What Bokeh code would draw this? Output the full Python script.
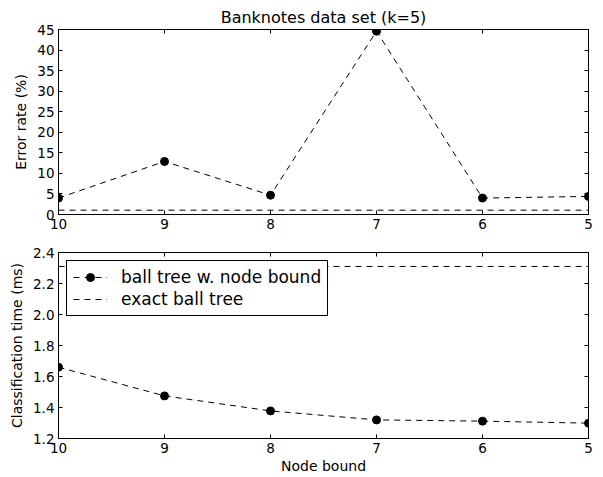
from bokeh.plotting import figure
from bokeh.models import (Range1d, FixedTicker, LinearAxis, Legend, LegendItem,
                          NumeralTickFormatter)
from bokeh.layouts import column
from bokeh.embed import file_html
from bokeh.resources import INLINE

# ---- data ----
node_bound = [10, 9, 8, 7, 6, 5]
error_node = [4.0, 12.9, 4.7, 44.6, 4.0, 4.4]
error_exact = [1.05, 1.05, 1.05, 1.05, 1.05, 1.05]
time_node = [1.660, 1.475, 1.378, 1.320, 1.312, 1.299]
time_exact = [2.31, 2.31, 2.31, 2.31, 2.31, 2.31]
err_ticks = [0, 5, 10, 15, 20, 25, 30, 35, 40, 45]
time_ticks = [1.2, 1.4, 1.6, 1.8, 2.0, 2.2, 2.4]

FONT = "DejaVu Sans"
DASH = "6 5"


def style(p, yticks):
    p.xgrid.visible = False
    p.ygrid.visible = False
    p.outline_line_color = "black"
    p.outline_line_width = 1
    p.background_fill_color = "white"
    p.border_fill_color = "white"
    p.xaxis.ticker = FixedTicker(ticks=node_bound)
    p.yaxis.ticker = FixedTicker(ticks=yticks)
    for ax in p.axis:
        ax.axis_line_color = "black"
        ax.major_tick_in = 4
        ax.major_tick_out = 0
        ax.minor_tick_in = 0
        ax.minor_tick_out = 0
        ax.major_tick_line_color = "black"
        ax.major_label_text_font = FONT
        ax.major_label_text_font_size = "13.5px"
        ax.major_label_text_color = "black"
        ax.major_label_standoff = 4
        ax.axis_label_text_font = FONT
        ax.axis_label_text_font_size = "14px"
        ax.axis_label_text_font_style = "normal"
        ax.axis_label_text_color = "black"
        ax.axis_label_standoff = 5
    # mirrored ticks on top and right (no labels)
    for loc, ticks in (("above", node_bound), ("right", yticks)):
        ax = LinearAxis(ticker=FixedTicker(ticks=ticks),
                        major_label_text_font_size="1px",
                        major_label_text_color=None,
                        major_label_standoff=0,
                        major_tick_in=4, major_tick_out=0,
                        minor_tick_in=0, minor_tick_out=0,
                        axis_line_color="black",
                        major_tick_line_color="black")
        p.add_layout(ax, loc)


# ---- top: error rate ----
p1 = figure(width=602, height=233, x_range=Range1d(10, 5), y_range=Range1d(0, 45),
            output_backend="svg", toolbar_location=None,
            min_border_left=58, min_border_right=14, min_border_top=29,
            min_border_bottom=19,
            title="Banknotes data set (k=5)")
p1.title.text_font = FONT
p1.title.text_font_size = "16px"
p1.title.text_font_style = "normal"
p1.title.text_color = "black"
p1.title.align = "center"
p1.title.standoff = 6
p1.title.offset = 0
style(p1, err_ticks)
p1.left[0].axis_label = "Error rate (%)"

p1.line(node_bound, error_node, line_color="black", line_dash=DASH, line_width=1)
p1.scatter(node_bound, error_node, size=8, fill_color="black", line_color="black")
p1.line(node_bound, error_exact, line_color="black", line_dash=DASH, line_width=1)

# ---- bottom: classification time ----
p2 = figure(width=602, height=243, x_range=Range1d(10, 5), y_range=Range1d(1.2, 2.4),
            output_backend="svg", toolbar_location=None,
            min_border_left=58, min_border_right=14, min_border_top=19,
            min_border_bottom=37)
style(p2, time_ticks)
p2.left[0].formatter = NumeralTickFormatter(format="0.0")
p2.left[0].axis_label = "Classification time (ms)"
p2.below[0].axis_label = "Node bound"
p2.below[0].axis_label_standoff = 2

l_node = p2.line(node_bound, time_node, line_color="black", line_dash=DASH, line_width=1)
s_node = p2.scatter(node_bound, time_node, size=8, fill_color="black", line_color="black")
l_exact = p2.line(node_bound, time_exact, line_color="black", line_dash=DASH, line_width=1)

legend = Legend(items=[
    LegendItem(label="ball tree w. node bound", renderers=[l_node, s_node]),
    LegendItem(label="exact ball tree", renderers=[l_exact]),
], location="top_left")
legend.border_line_color = "black"
legend.border_line_width = 1
legend.border_line_alpha = 1
legend.background_fill_color = "white"
legend.background_fill_alpha = 1
legend.margin = 8
legend.padding = 6
legend.spacing = 2
legend.glyph_width = 34
legend.glyph_height = 20
legend.label_height = 20
legend.label_standoff = 14
legend.label_text_font = FONT
legend.label_text_font_size = "17px"
legend.label_text_color = "black"
p2.add_layout(legend)

layout = column(p1, p2, spacing=0)
open("out.html", "w").write(file_html(layout, INLINE))
